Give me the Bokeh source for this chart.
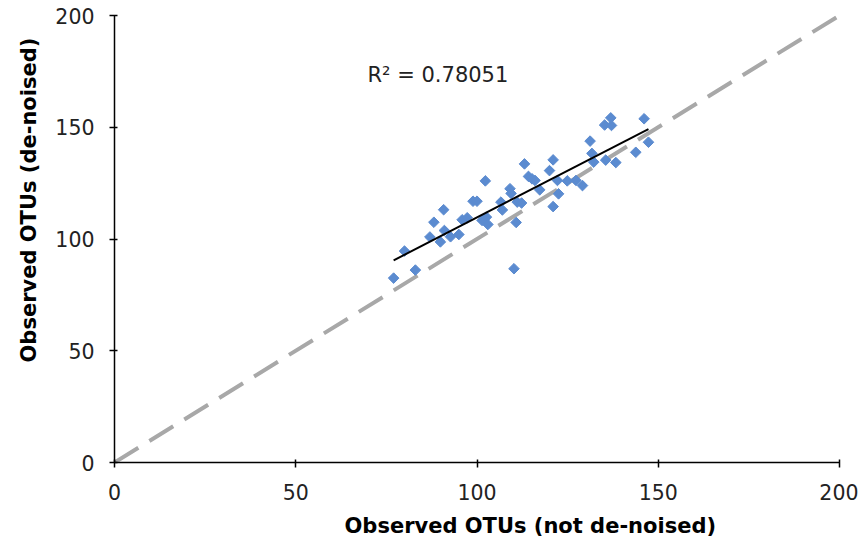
import numpy as np
from bokeh.plotting import figure
from bokeh.models import ColumnDataSource, Range1d, FixedTicker, Title
from bokeh.embed import file_html
from bokeh.resources import INLINE
from bokeh.core.properties import value

# Observed OTUs (not de-noised) vs Observed OTUs (de-noised)
not_denoised = [77.0, 80.0, 83.0, 87.0, 88.1, 89.9, 90.8, 91.0, 92.7, 95.0,
                95.9, 97.3, 98.9, 100.0, 101.4, 102.3, 102.6, 103.0, 106.6, 107.0,
                109.1, 109.4, 110.2, 110.8, 111.1, 112.3, 113.1, 114.2, 115.2, 116.0,
                117.3, 120.0, 121.0, 121.0, 122.2, 122.5, 124.9, 127.3, 129.1, 131.2,
                131.7, 132.2, 135.2, 135.5, 136.9, 137.1, 138.3, 143.8, 146.1, 147.3]
denoised = [82.5, 94.6, 86.1, 100.9, 107.5, 98.7, 113.1, 103.8, 101.0, 102.0,
            108.6, 109.5, 116.9, 116.9, 108.3, 126.0, 109.8, 106.5, 116.5, 113.0,
            122.5, 120.4, 86.7, 107.4, 116.5, 116.1, 133.6, 128.0, 126.9, 126.2,
            122.0, 130.6, 135.4, 114.5, 126.2, 120.2, 126.0, 126.2, 123.9, 143.8,
            138.3, 134.4, 151.0, 135.3, 154.2, 150.8, 134.2, 138.8, 153.8, 143.3]
identity = [0, 200]
axis_ticks = [0, 50, 100, 150, 200]
r2_label = "R\u00b2 = 0.78051"
x_title = "Observed OTUs (not de-noised)"
y_title = "Observed OTUs (de-noised)"

FONT = "DejaVu Sans"

p = figure(width=858, height=550, output_backend="svg", toolbar_location=None,
           x_range=Range1d(0, 200), y_range=Range1d(0, 200),
           min_border_left=114, min_border_right=19, min_border_top=15, min_border_bottom=88)
p.outline_line_color = None
p.background_fill_color = "white"
p.border_fill_color = "white"
p.grid.visible = False

# identity line
p.line(identity, identity, line_color="#a8a8a8", line_width=4, line_dash="28 13")

# scatter
src = ColumnDataSource(dict(x=not_denoised, y=denoised))
p.scatter("x", "y", source=src, marker="square", angle=np.pi / 4, size=7.5,
          fill_color="#5b8bd0", line_color="#5b8bd0")

# linear trend line fitted to the data
coef = np.polyfit(not_denoised, denoised, 1)
xs = [min(not_denoised), max(not_denoised)]
ys = [coef[0] * v + coef[1] for v in xs]
p.line(xs, ys, line_color="black", line_width=2)

p.text(x=[69.8], y=[173.2], text=[r2_label], text_font=value(FONT),
       text_font_size="21px", text_color="#222222", text_baseline="middle",
       text_align="left")

for ax in (p.xaxis, p.yaxis):
    ax.ticker = FixedTicker(ticks=axis_ticks)
    ax.axis_line_color = "black"
    ax.axis_line_width = 1.5
    ax.major_tick_line_color = "black"
    ax.major_tick_line_width = 1.5
    ax.major_tick_in = 3
    ax.major_tick_out = 5
    ax.minor_tick_line_color = None
    ax.major_label_text_font = FONT
    ax.major_label_text_font_size = "20.5px"
    ax.major_label_text_color = "#222222"

p.xaxis.major_label_standoff = 16
p.yaxis.major_label_standoff = 15

# axis titles (placed off-centre as in the original)
p.add_layout(Title(text=x_title, text_font=FONT, text_font_size="21px",
                   text_font_style="bold", text_color="black",
                   align="left", offset=230, standoff=18), "below")
p.add_layout(Title(text=y_title, text_font=FONT, text_font_size="21px",
                   text_font_style="bold", text_color="black",
                   align="left", offset=100, standoff=23), "left")

open("out.html", "w").write(file_html(p, INLINE))
